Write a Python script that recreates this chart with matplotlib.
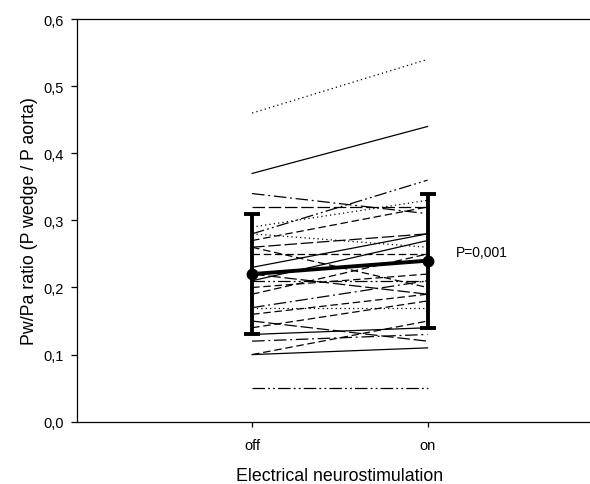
import matplotlib.pyplot as plt
import numpy as np
from matplotlib import rcParams

rcParams['font.family'] = ['Liberation Sans', 'DejaVu Sans']
rcParams['font.size'] = 10

# Data: individual patients (off -> on)
conditions = ['off', 'on']
pw_off = np.array([0.46, 0.37, 0.34, 0.32, 0.28, 0.29, 0.27, 0.28, 0.26, 0.25,
                   0.23, 0.21, 0.22, 0.26, 0.21, 0.20, 0.19, 0.17, 0.17, 0.16,
                   0.14, 0.13, 0.12, 0.10, 0.10, 0.05, 0.15])
pw_on = np.array([0.54, 0.44, 0.31, 0.32, 0.36, 0.33, 0.32, 0.26, 0.28, 0.25,
                  0.28, 0.27, 0.19, 0.20, 0.21, 0.22, 0.25, 0.17, 0.21, 0.19,
                  0.18, 0.14, 0.13, 0.15, 0.11, 0.05, 0.12])

# mean and sd
mean_vals = np.array([0.22, 0.24])
sd_vals = np.array([0.09, 0.10])
p_text = 'P=0,001'

# line styles (SigmaPlot-like)
solid = '-'
longdash = (0, (10, 3))
dash = (0, (6, 3))
dotted = (0, (1, 2.5))
dashdot = (0, (10, 3, 1.5, 3))
dashdotdot = (0, (10, 2.5, 1.5, 2.5, 1.5, 2.5))
styles = [dotted, solid, dashdot, longdash, dashdotdot, dotted, dash, dotted,
          longdash, dash, solid, solid, longdash, dash, dashdotdot, dash, dash,
          dotted, dashdot, dash, dash, solid, dashdot, dash, solid, dashdotdot,
          longdash]

fig = plt.figure(figsize=(5.9, 4.85), dpi=100)
ax = fig.add_axes([0.130, 0.1285, 0.892, 0.830])

x = np.array([1, 2])
for a, b, ls in zip(pw_off, pw_on, styles):
    ax.plot(x, [a, b], color='black', linewidth=0.9, linestyle=ls)

ax.errorbar(x, mean_vals, yerr=sd_vals, fmt='o-', color='black', linewidth=2.8,
            markersize=7.5, elinewidth=2.8, capsize=6, capthick=2.8, zorder=5)

ax.text(2.16, 0.2525, p_text, fontsize=10, va='center', ha='left')

ax.set_xlim(0, 3)
ax.set_ylim(0, 0.6)
ax.set_xticks(x)
ax.set_xticklabels(conditions)
ax.set_yticks(np.arange(0, 0.61, 0.1))
ax.set_yticklabels([f'{v:.1f}'.replace('.', ',') for v in np.arange(0, 0.61, 0.1)])
ax.tick_params(direction='out', length=4, width=0.9, labelsize=10.5, pad=5)
ax.tick_params(axis='x', length=3.5, pad=8)

ax.spines['right'].set_visible(False)
for s in ['left', 'bottom', 'top']:
    ax.spines[s].set_linewidth(0.9)

ax.set_xlabel('Electrical neurostimulation', fontsize=12.8, labelpad=11)
ax.set_ylabel('Pw/Pa ratio (P wedge / P aorta)', fontsize=12.8, labelpad=4)

plt.savefig('out.png', dpi=100)
plt.close()
